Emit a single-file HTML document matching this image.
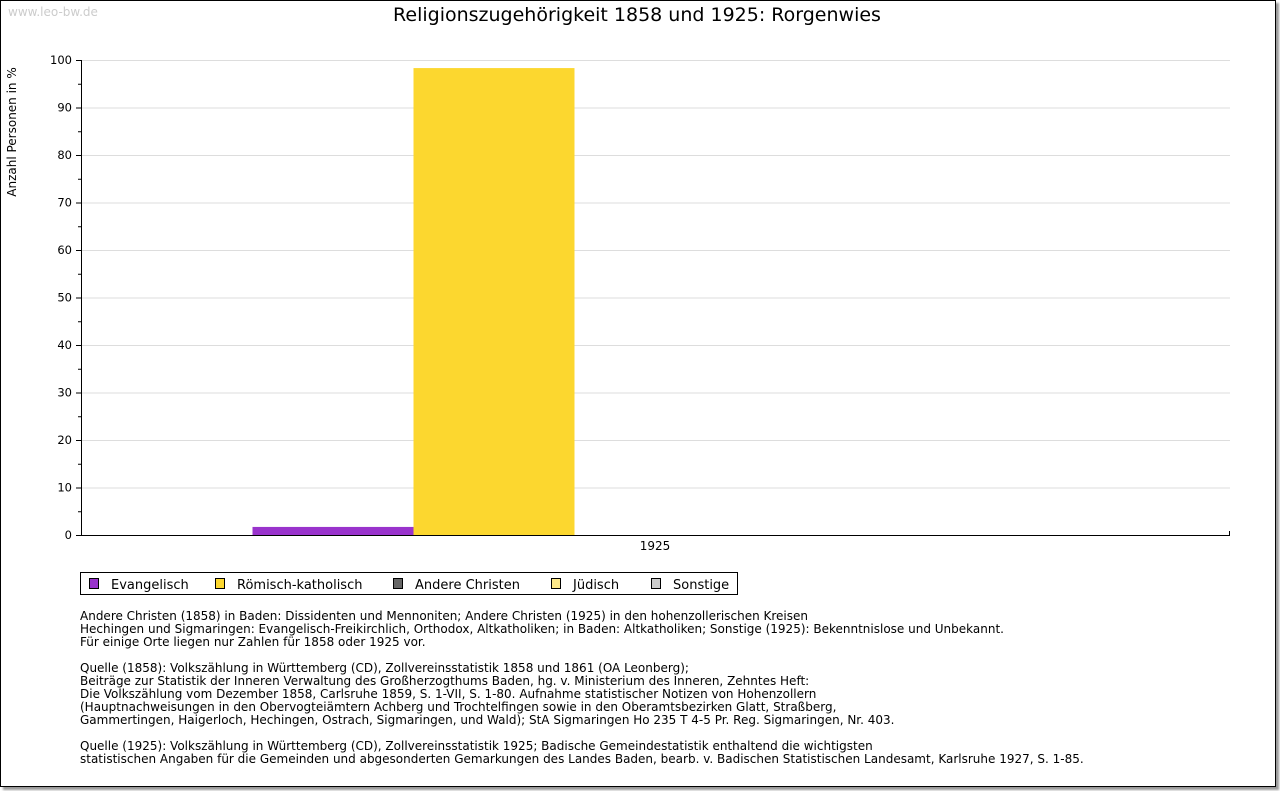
<!DOCTYPE html>
<html><head><meta charset="utf-8"><style>
body{margin:0;width:1280px;height:791px;background:#fff;font-family:"DejaVu Sans","Liberation Sans",sans-serif;overflow:hidden;position:relative}
#frame{position:absolute;left:0;top:0;width:1274px;height:785px;border:1px solid #000;box-shadow:3px 3px 2px #999}
.fn{position:absolute;left:80px;font-size:12px;line-height:13px;color:#000;white-space:pre}
</style></head><body>
<div id="frame"></div>
<svg width="1280" height="791" style="position:absolute;left:0;top:0">
<text x="8" y="16" font-size="12" fill="#ccc">www.leo-bw.de</text>
<text x="637" y="21" font-size="19" text-anchor="middle">Religionszugehörigkeit 1858 und 1925: Rorgenwies</text>
<text transform="translate(16,132) rotate(-90)" font-size="12" text-anchor="middle">Anzahl Personen in %</text>
<g id="grid"></g><g id="bars"></g><g id="axes"></g>
<rect x="80.5" y="572.5" width="657" height="22" fill="#fff" stroke="#000"/>
<g id="legend"></g>
</svg>
<div class="fn" style="top:610px">Andere Christen (1858) in Baden: Dissidenten und Mennoniten; Andere Christen (1925) in den hohenzollerischen Kreisen
Hechingen und Sigmaringen: Evangelisch-Freikirchlich, Orthodox, Altkatholiken; in Baden: Altkatholiken; Sonstige (1925): Bekenntnislose und Unbekannt.
Für einige Orte liegen nur Zahlen für 1858 oder 1925 vor.</div>
<div class="fn" style="top:662px">Quelle (1858): Volkszählung in Württemberg (CD), Zollvereinsstatistik 1858 und 1861 (OA Leonberg);
Beiträge zur Statistik der Inneren Verwaltung des Großherzogthums Baden, hg. v. Ministerium des Inneren, Zehntes Heft:
Die Volkszählung vom Dezember 1858, Carlsruhe 1859, S. 1-VII, S. 1-80. Aufnahme statistischer Notizen von Hohenzollern
(Hauptnachweisungen in den Obervogteiämtern Achberg und Trochtelfingen sowie in den Oberamtsbezirken Glatt, Straßberg,
Gammertingen, Haigerloch, Hechingen, Ostrach, Sigmaringen, und Wald); StA Sigmaringen Ho 235 T 4-5 Pr. Reg. Sigmaringen, Nr. 403.</div>
<div class="fn" style="top:740px">Quelle (1925): Volkszählung in Württemberg (CD), Zollvereinsstatistik 1925; Badische Gemeindestatistik enthaltend die wichtigsten
statistischen Angaben für die Gemeinden und abgesonderten Gemarkungen des Landes Baden, bearb. v. Badischen Statistischen Landesamt, Karlsruhe 1927, S. 1-85.</div>
<script>
const categories=["1925"];
const seriesNames=["Evangelisch","Römisch-katholisch","Andere Christen","Jüdisch","Sonstige"];
const seriesValues=[[1.7],[98.3],[0],[0],[0]];
const yTicks=[0,10,20,30,40,50,60,70,80,90,100];
const colors=["#9933cc","#fcd72f","#666666","#fde98a","#cccccc"];
const NS="http://www.w3.org/2000/svg";
const X0=81,X1=1230,Y0=535,Y1=60;
const y=v=>Y0-(v/100)*(Y0-Y1);
const groupW=(X1-X0)/categories.length, barW=161;
function mk(t,a,p){const e=document.createElementNS(NS,t);for(const k in a)e.setAttribute(k,a[k]);p.appendChild(e);return e;}
const grid=document.getElementById('grid'),axes=document.getElementById('axes'),bars=document.getElementById('bars'),leg=document.getElementById('legend');
yTicks.forEach(t=>{
 if(t>0){const g=mk('line',{x1:X0,x2:X1,y1:y(t)+.5,y2:y(t)+.5,stroke:'#ddd'},grid);
 
 }
 const tk=mk('line',{x1:X0-5,x2:X0,y1:y(t)+.5,y2:y(t)+.5,stroke:'#000'},axes);
 
 
 const m=mk('line',{x1:X0-3,x2:X0,y1:y(t+5)+.5,y2:y(t+5)+.5,stroke:'#000'},axes);
 if(t==100)m.remove();
 const l=mk('text',{x:X0-9,y:y(t)+4,'font-size':11.5,'text-anchor':'end'},axes);l.textContent=t;
 
 
});
const ya=mk('line',{x1:X0+.5,x2:X0+.5,y1:Y1,y2:Y0,stroke:'#000'},axes);


const xa=mk('line',{x1:X0,x2:X1,y1:Y0+.5,y2:Y0+.5,stroke:'#000'},axes);


mk('line',{x1:X1-.5,x2:X1-.5,y1:Y0-4,y2:Y0,stroke:'#000'},axes);
categories.forEach((c,ci)=>{
 const cx=X0+groupW*(ci+.5)-.5;
 const start=cx-barW*seriesNames.length/2;
 seriesValues.forEach((s,si)=>{
  const v=s[ci];if(!v)return;
  const r=mk('rect',{x:start+si*barW,y:y(v),width:barW,height:Y0-y(v),fill:colors[si]},bars);
  
  
 });
 const t=mk('text',{x:cx,y:Y0+15,'font-size':12,'text-anchor':'middle'},axes);t.textContent=c;
 
 
});
const legX=[89,215,393,551,651];
seriesNames.forEach((n,i)=>{
 const r=mk('rect',{x:legX[i]+.5,y:578.5,width:9,height:10,fill:colors[i],stroke:'#000'},leg);
 
 
 const t=mk('text',{x:legX[i]+22,y:589,'font-size':13},leg);t.textContent=n;
 
 
});
</script>
</body></html>
